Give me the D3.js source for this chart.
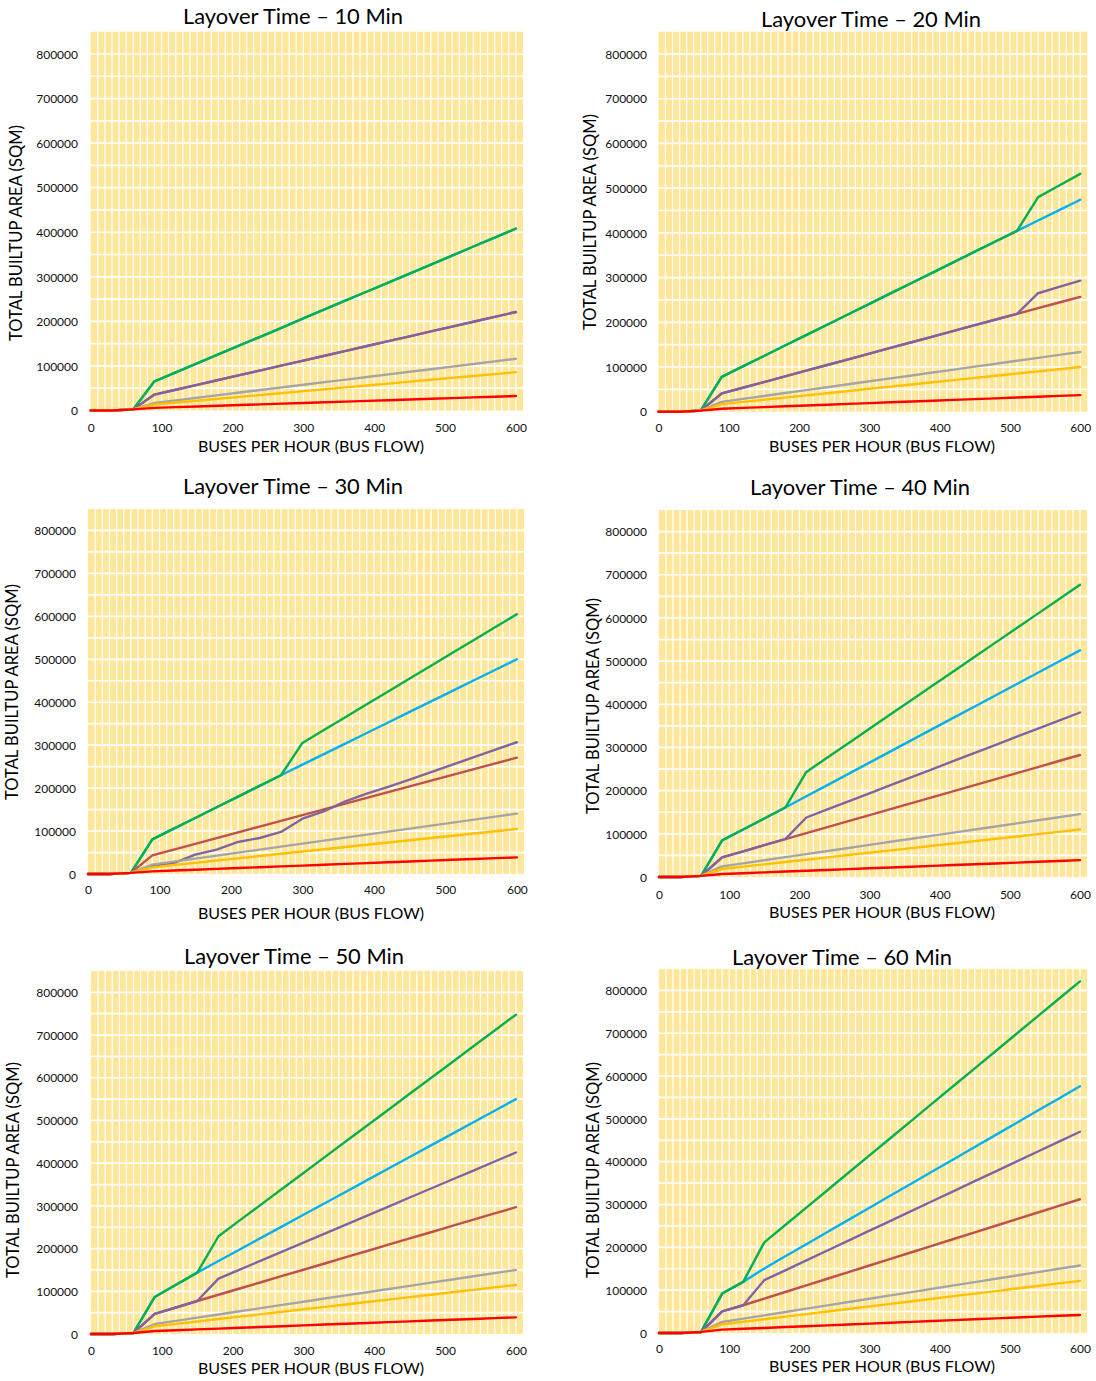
<!DOCTYPE html>
<html><head><meta charset="utf-8">
<script src="https://cdn.jsdelivr.net/npm/d3@7"></script>
<style>body{margin:0;background:#fff}svg{display:block}</style>
</head><body>
<svg id="c" width="1096" height="1381"></svg>
<script>
// ---------- data ----------
const busFlow = [0,30,60,90,120,150,180,210,240,270,300,330,360,390,420,450,480,510,540,570,600];
const xTickValues = [0,100,200,300,400,500,600];
const yTickValues = [0,100000,200000,300000,400000,500000,600000,700000,800000];
const chartTitles = ["Layover Time – 10 Min","Layover Time – 20 Min","Layover Time – 30 Min","Layover Time – 40 Min","Layover Time – 50 Min","Layover Time – 60 Min"];
const xAxisTitle = "BUSES PER HOUR (BUS FLOW)";
const yAxisTitle = "TOTAL BUILTUP AREA (SQM)";
// series in drawing order
const seriesNames = ["blue","green","brown","purple","gray","orange","red"];
const seriesColors = ["#00B0F0","#00B050","#C0504D","#8064A2","#A5A5A5","#FFC000","#FF0000"];

const layover10 = [
 [0,0,2500,65500,85600,105800,126000,146000,166000,186000,206500,227000,247000,267000,287000,307000,327500,347500,368000,388000,408000],
 [0,0,2500,65500,85600,105800,126000,146000,166000,186000,206500,227000,247000,267000,287000,307000,327500,347500,368000,388000,408000],
 [0,0,2500,35700,46600,57500,68400,79300,90200,101100,112000,122900,133800,144700,155600,166500,177400,188300,199200,210100,221000],
 [0,0,2500,35700,46600,57500,68400,79300,90200,101100,112000,122900,133800,144700,155600,166500,177400,188300,199200,210100,221000],
 [0,0,2500,17000,22800,28600,34500,40300,46100,51900,57800,63600,69400,75200,81100,86900,92700,98500,104400,110200,116000],
 [0,0,2500,13500,17800,22000,26300,30600,34800,39100,43400,47600,51900,56100,60400,64700,68900,73200,77500,81700,86000],
 [0,0,2500,6000,7600,9100,10700,12200,13800,15400,16900,18500,20000,21600,23100,24700,26300,27800,29400,30900,32500]
];
const layover20 = [
 [0,0,2500,78000,101300,124600,148000,171300,194600,217900,241200,264600,287900,311200,334500,357900,381200,404500,427700,450800,474000],
 [0,0,2500,78000,101300,124600,148000,171300,194600,217900,241200,264600,287900,311200,334500,357900,381200,404500,480000,506000,532000],
 [0,0,2500,40800,53500,66300,79000,91700,104400,117200,129900,142600,155400,168100,180800,193500,206300,219000,231600,244200,256800],
 [0,0,2500,40800,53500,66300,79000,91700,104400,117200,129900,142600,155400,168100,180800,193500,206300,219000,265000,279000,293000],
 [0,0,2500,22000,28600,35100,41700,48300,54800,61400,68000,74500,81100,87700,94200,100800,107300,113900,120500,127000,133600],
 [0,0,2500,17000,21900,26800,31600,36500,41400,46300,51200,56100,60900,65800,70700,75600,80500,85400,90200,95100,100000],
 [0,0,2500,6700,8500,10300,12100,13900,15600,17400,19200,21000,22800,24600,26400,28200,29900,31700,33500,35300,37100]
];
const layover30 = [
 [0,0,2500,80800,105700,130500,155400,180300,205100,230000,254600,279100,303700,328300,352800,377400,402000,426500,451100,475600,500200],
 [0,0,2500,80800,105700,130500,155400,180300,205100,230000,305200,335200,365200,395100,425100,455100,485100,515100,545000,575000,605000],
 [0,0,2500,43500,56900,70300,83600,97000,110400,123800,137200,150600,163900,177300,190700,204100,217500,230900,244200,257600,271000],
 [0,0,2500,18600,25600,45000,56700,74600,83900,97900,128900,146000,169300,187200,202700,220000,237000,254500,272000,289500,306800],
 [0,0,2500,21700,28700,35700,42700,49700,56700,63700,70700,77700,84700,91600,98600,105600,112600,119600,126600,133600,140600],
 [0,0,2500,15500,20800,26000,31300,36500,41800,47100,52300,57600,62800,68100,73400,78600,83900,89100,94400,99600,104900],
 [0,0,2500,6200,8100,10000,12000,13900,15800,17700,19600,21500,23500,25400,27300,29200,31100,33100,35000,36900,38800]
];
const layover40 = [
 [0,0,2500,84700,110100,135500,160900,186900,212900,238900,264900,290900,317000,343000,369000,395000,421000,447000,473000,499000,525000],
 [0,0,2500,84700,110100,135500,160900,243300,276600,310000,343300,376700,410000,443300,476700,510000,543400,576700,610000,643400,676700],
 [0,0,2500,45400,59500,73700,87800,101700,115600,129500,143400,157400,171300,185200,199100,213000,226900,240800,254700,268600,282500],
 [0,0,2500,45400,59500,73700,87800,137800,156500,175200,193900,212600,231300,250000,268700,287500,306200,324900,343600,362300,381000],
 [0,0,2500,24600,31700,38800,45900,53000,60200,67300,74400,81500,88600,95700,102800,109900,117000,124200,131300,138400,145500],
 [0,0,2500,18500,23900,29300,34600,40000,45400,50800,56200,61600,66900,72300,77700,83100,88500,93900,99200,104600,110000],
 [0,0,2500,6900,8800,10700,12600,14500,16300,18200,20100,22000,23900,25800,27700,29600,31400,33300,35200,37100,39000]
];
const layover50 = [
 [0,0,2500,86700,115200,143700,170800,197900,225000,252000,279100,306200,333200,360300,387400,414500,441600,468700,495800,522900,550000],
 [0,0,2500,86700,115200,143700,228900,266000,303000,340100,377100,414200,451200,488300,525300,562400,599500,636500,673600,710600,747700],
 [0,0,2500,46900,62100,77300,91900,106600,121200,135900,150500,165100,179800,194400,209100,223700,238300,253000,267600,282300,296900],
 [0,0,2500,46900,62100,77300,129700,150800,171900,193000,214100,235200,256300,277400,298500,319600,340700,361800,382800,403900,425000],
 [0,0,2500,23400,30800,38300,45700,53200,60600,68100,75500,83000,90400,97900,105300,112800,120200,127700,135100,142600,150000],
 [0,0,2500,18000,23700,29400,35100,40800,46500,52200,57900,63600,69200,74900,80600,86300,92000,97700,103400,109100,114800],
 [0,0,2500,7000,8900,10800,12600,14500,16400,18300,20200,22100,23900,25800,27700,29600,31500,33400,35200,37100,39000]
];
const layover60 = [
 [0,0,2500,92100,119400,150700,179100,207400,235800,264100,292500,320900,349200,377600,405900,434300,462700,491000,519400,547700,576100],
 [0,0,2500,92100,119400,211500,252100,292800,333400,374100,414700,455400,496000,536700,577300,618000,658600,699300,739900,780600,821200],
 [0,0,2500,50700,64800,80300,95700,111200,126700,142100,157600,173100,188600,204000,219500,235000,250400,265900,281400,296800,312300],
 [0,0,2500,50700,64800,123300,146400,169500,192600,215800,238900,262000,285100,308200,331300,354500,377600,400700,423800,446900,470000],
 [0,0,2500,25800,33600,41300,49100,56800,64600,72400,80100,87900,95600,103400,111200,118900,126700,134400,142200,149900,157700],
 [0,0,2500,20300,26300,32200,38200,44200,50200,56100,62100,68100,74000,80000,86000,92000,97900,103900,109900,115800,121800],
 [0,0,2500,7800,9800,11800,13900,15900,17900,20000,22000,24000,26000,28000,30100,32100,34100,36100,38200,40200,42200]
];
const chartData = [layover10, layover20, layover30, layover40, layover50, layover60];

// ---------- layout ----------
const panels = [
 {l:90.7, r:523,   t:31.7, b:410.5, tx:293, ty:16,  xtx:311, xty:446,  ytx:16,  yty:233,  ylr:78,  xly:428},
 {l:658.5,r:1087.3,t:31.7, b:411.7, tx:871, ty:19,  xtx:882, xty:446,  ytx:590, yty:222,  ylr:647, xly:428},
 {l:88,   r:524,   t:509,  b:874,   tx:293, ty:486, xtx:311, xty:913,  ytx:12,  yty:692,  ylr:76,  xly:890},
 {l:659,  r:1087,  t:510,  b:877,   tx:860, ty:487, xtx:882, xty:912,  ytx:593, yty:706,  ylr:647, xly:895},
 {l:91,   r:523,   t:971,  b:1334,  tx:294, ty:956, xtx:311, xty:1368, ytx:13,  yty:1170, ylr:78,  xly:1351},
 {l:659,  r:1087,  t:969,  b:1333,  tx:842, ty:957, xtx:882, xty:1366, ytx:593, yty:1170, ylr:647, xly:1349}
];
const FONT = "Lato, 'Open Sans', sans-serif";
const svg = d3.select("#c");

function fit(sel, target){
  const w = sel.node().getComputedTextLength();
  const fs = parseFloat(sel.attr("font-size"));
  sel.attr("font-size", (fs*target/w).toFixed(2));
}

panels.forEach((p, i) => {
  const x = d3.scaleLinear().domain([0, 610]).range([p.l, p.r]);
  const y = d3.scaleLinear().domain([0, 850000]).range([p.b, p.t]);
  const g = svg.append("g");

  g.append("rect").attr("x", p.l).attr("y", p.t)
    .attr("width", p.r - p.l).attr("height", p.b - p.t).attr("fill", "#FFE699");

  g.append("g").selectAll("line").data(d3.range(10, 601, 10)).join("line")
    .attr("x1", d => x(d)).attr("x2", d => x(d)).attr("y1", p.t).attr("y2", p.b)
    .attr("stroke", "#fff").attr("stroke-width", 1.3);
  g.append("g").selectAll("line").data(d3.range(50000, 800001, 50000)).join("line")
    .attr("y1", d => y(d)).attr("y2", d => y(d)).attr("x1", p.l).attr("x2", p.r)
    .attr("stroke", "#fff").attr("stroke-width", 1.7);

  const line = d3.line().x((d, j) => x(busFlow[j])).y(d => y(d));
  chartData[i].forEach((vals, s) => {
    g.append("path").datum(vals).attr("d", line).attr("fill", "none")
      .attr("stroke", seriesColors[s]).attr("stroke-width", 2.4)
      .attr("stroke-linejoin", "round").attr("stroke-linecap", "round");
  });

  const xa = g.append("g").attr("transform", `translate(0,${p.xly})`)
    .call(d3.axisBottom(x).tickValues(xTickValues).tickSize(0).tickPadding(0));
  xa.select(".domain").remove();
  xa.selectAll("text").attr("y", 0).attr("dy", "0.35em")
    .attr("font-family", FONT).attr("font-size", 12).attr("fill", "#111");

  const ya = g.append("g").attr("transform", `translate(${p.ylr},0)`)
    .call(d3.axisLeft(y).tickValues(yTickValues).tickSize(0).tickPadding(0).tickFormat(d3.format("d")));
  ya.select(".domain").remove();
  ya.selectAll("text").attr("x", 0).attr("dy", "0.35em")
    .attr("font-family", FONT).attr("font-size", 12).attr("fill", "#111");

  const t = g.append("text").attr("x", p.tx).attr("y", p.ty).attr("dy", "0.35em")
    .attr("text-anchor", "middle").attr("font-family", FONT).attr("font-size", 20)
    .attr("fill", "#000").text(chartTitles[i]);
  fit(t, 220);

  const xt = g.append("text").attr("x", p.xtx).attr("y", p.xty).attr("dy", "0.35em")
    .attr("text-anchor", "middle").attr("font-family", FONT).attr("font-size", 16)
    .attr("fill", "#000").text(xAxisTitle);
  fit(xt, 226);

  const yt = g.append("text").attr("transform", `translate(${p.ytx},${p.yty}) rotate(-90)`)
    .attr("dy", "0.35em").attr("text-anchor", "middle").attr("font-family", FONT)
    .attr("font-size", 16).attr("fill", "#000").text(yAxisTitle);
  fit(yt, 216);
});
</script>
</body></html>
